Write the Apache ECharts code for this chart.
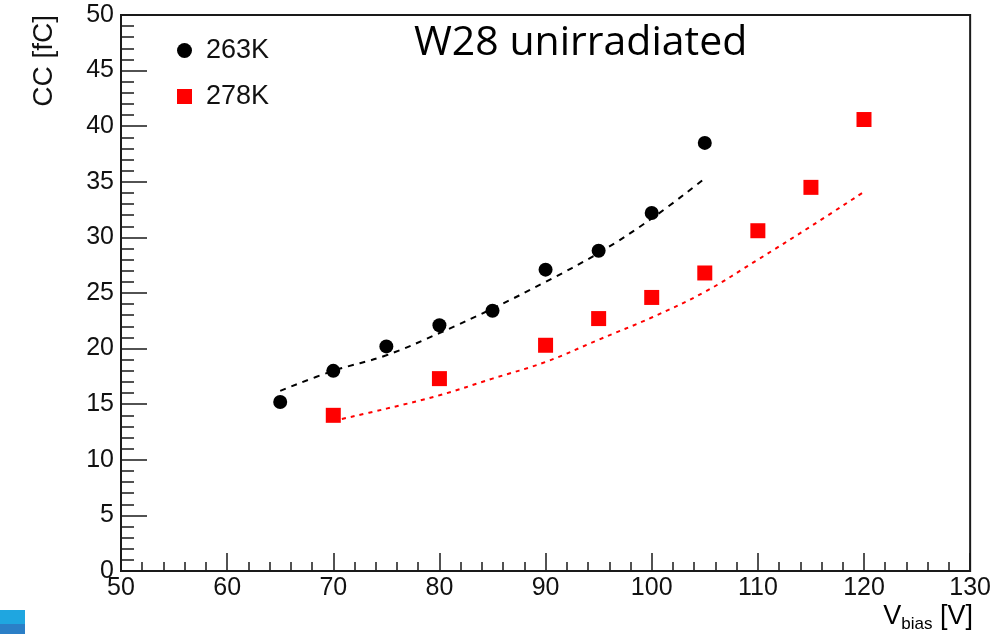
<!DOCTYPE html>
<html>
<head>
<meta charset="utf-8">
<script src="https://cdn.jsdelivr.net/npm/echarts@6/dist/echarts.min.js"></script>
<style>
html,body{margin:0;padding:0;background:#fff;}
#c{width:994px;height:634px;}
</style>
</head>
<body>
<div id="c"></div>
<script>
// Measured points
const vbias263 = [65, 70, 75, 80, 85, 90, 95, 100, 105];
const cc263 = [15.2, 18.0, 20.2, 22.1, 23.4, 27.1, 28.8, 32.2, 38.5];
const vbias278 = [70, 80, 90, 95, 100, 105, 110, 115, 120];
const cc278 = [14.0, 17.3, 20.3, 22.7, 24.6, 26.8, 30.6, 34.5, 40.6];
// Fit curves
const fitV263 = [65, 70, 75, 80, 85, 90, 95, 100, 105];
const fitCC263 = [16.2, 18.0, 19.4, 21.4, 23.6, 26.0, 28.6, 31.7, 35.3];
const fitV278 = [70, 75, 80, 85, 90, 95, 100, 105, 110, 115, 120];
const fitCC278 = [13.5, 14.6, 15.8, 17.3, 18.8, 20.8, 22.8, 25.1, 28.0, 31.0, 34.1];
const seriesNames = ['263K', '278K'];
const titleText = 'W28 unirradiated';

const pairs = (xs, ys) => xs.map((x, i) => [x, ys[i]]);
const chart = echarts.init(document.getElementById('c'), null, {renderer: 'canvas'});
const tickFont = 'Liberation Sans';
chart.setOption({
  animation: false,
  backgroundColor: '#fff',
  grid: {left: 121, top: 15, right: 21, bottom: 63, show: true, borderColor: '#1a1a1a', borderWidth: 2, backgroundColor: 'transparent'},
  xAxis: {
    type: 'value', min: 50, max: 130, interval: 10,
    axisLine: {show: true, onZero: false, lineStyle: {color: '#1a1a1a', width: 2}},
    axisTick: {show: true, inside: true, length: 18, lineStyle: {color: '#1a1a1a', width: 1.5}},
    minorTick: {show: true, splitNumber: 5, length: 9, lineStyle: {color: '#1a1a1a', width: 1.5}},
    splitLine: {show: false},
    axisLabel: {fontFamily: tickFont, fontSize: 25, color: '#111', margin: 5}
  },
  yAxis: {
    type: 'value', min: 0, max: 50, interval: 5,
    axisLine: {show: true, onZero: false, lineStyle: {color: '#1a1a1a', width: 2}},
    axisTick: {show: true, inside: true, length: 26, lineStyle: {color: '#1a1a1a', width: 1.5}},
    minorTick: {show: true, splitNumber: 5, length: 13, lineStyle: {color: '#1a1a1a', width: 1.5}},
    splitLine: {show: false},
    axisLabel: {fontFamily: tickFont, fontSize: 25, color: '#111', margin: 7}
  },
  legend: {
    data: seriesNames, orient: 'vertical', left: 172, top: 32, itemGap: 19,
    itemWidth: 15, itemHeight: 15,
    textStyle: {fontFamily: tickFont, fontSize: 27, color: '#111', padding: [0, 0, 0, 9]}
  },
  title: {
    text: titleText, left: 409, top: 18,
    textStyle: {fontFamily: 'Open Sans', fontSize: 41, fontWeight: 'normal', color: '#000'}
  },
  graphic: [
    {type: 'text', rotation: Math.PI / 2, x: 30, y: 15,
     style: {text: 'CC [fC]', font: '28px "Liberation Sans"', fill: '#111', textAlign: 'right', textVerticalAlign: 'top'}},
    {type: 'text', x: 973, y: 630,
     style: {text: '{v|V}{s|bias}{v| [V]}', textAlign: 'right', textVerticalAlign: 'bottom',
       rich: {v: {fontFamily: tickFont, fontSize: 27, color: '#111', verticalAlign: 'bottom'},
              s: {fontFamily: tickFont, fontSize: 17, color: '#111', verticalAlign: 'bottom', padding: [0, 0, -3, 0]}}}},
    {type: 'rect', shape: {x: 0, y: 610, width: 25, height: 14}, style: {fill: '#1fa6e0'}},
    {type: 'rect', shape: {x: 0, y: 624, width: 25, height: 10}, style: {fill: '#2b7fc7'}}
  ],
  series: [
    {name: 'fit263', type: 'line', data: pairs(fitV263, fitCC263), smooth: 0.4, symbol: 'none', z: 2,
     lineStyle: {color: '#000', width: 2, type: [6, 6]}},
    {name: 'fit278', type: 'line', data: pairs(fitV278, fitCC278), smooth: 0.4, symbol: 'none', z: 2,
     lineStyle: {color: '#ff0000', width: 2, type: [4, 5]}},
    {name: '263K', type: 'scatter', data: pairs(vbias263, cc263), symbol: 'circle', symbolSize: 14, z: 5,
     itemStyle: {color: '#000', opacity: 1}},
    {name: '278K', type: 'scatter', data: pairs(vbias278, cc278), symbol: 'rect', symbolSize: 15, z: 5,
     itemStyle: {color: '#ff0000', opacity: 1}}
  ]
});
</script>
</body>
</html>
